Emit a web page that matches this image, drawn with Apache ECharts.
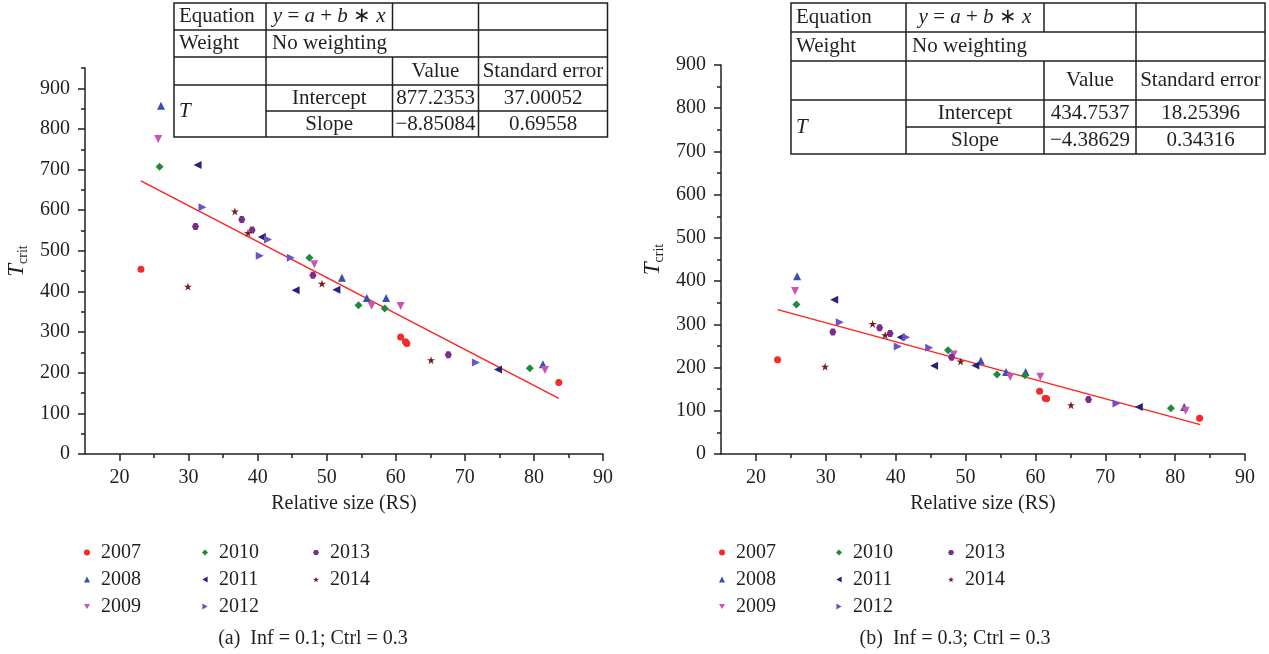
<!DOCTYPE html>
<html><head><meta charset="utf-8">
<script src="https://cdn.jsdelivr.net/npm/echarts@6/dist/echarts.min.js"></script>
<style>html,body{margin:0;padding:0;background:#fff}#c{width:1269px;height:654px}</style>
</head><body><div id="c"></div>
<script>
// ---------- data ----------
const years = ['2007','2008','2009','2010','2011','2012','2013','2014'];
const xTickLabels = [20,30,40,50,60,70,80,90];
const xMinorTicks = [25,35,45,55,65,75,85];
const yTickLabels = [0,100,200,300,400,500,600,700,800,900];
const yMinorTicksA = [50,150,250,350,450,550,650,750,850,950];
const yMinorTicksB = [50,150,250,350,450,550,650,750,850];

// (a) Inf = 0.1; Ctrl = 0.3
const a2007 = [[23.1,455],[60.7,288],[61.4,276],[61.6,272],[83.6,176]];
const a2008 = [[26.0,857],[52.2,434],[55.8,384],[58.6,384],[81.3,221]];
const a2009 = [[25.6,775],[48.2,467],[56.5,365],[60.7,364],[81.6,207]];
const a2010 = [[25.8,707],[47.5,483],[54.6,366],[58.4,358],[79.4,211]];
const a2011 = [[31.3,711],[40.6,534],[45.5,403],[51.4,404],[74.8,208]];
const a2012 = [[32.0,607],[41.5,528],[40.3,488],[44.8,483],[71.6,225]];
const a2013 = [[31.0,560],[37.7,577],[39.2,551],[48.0,440],[67.6,244]];
const a2014 = [[29.9,412],[36.7,597],[38.6,544],[49.3,419],[65.1,231]];
const aFit  = [[23.1,672],[83.6,137]];

// (b) Inf = 0.3; Ctrl = 0.3
const b2007 = [[23.1,218],[60.6,145],[61.4,129],[61.6,128],[83.5,83]];
const b2008 = [[25.9,411],[52.2,216],[55.8,190],[58.6,190],[81.3,109]];
const b2009 = [[25.6,377],[48.3,230],[56.4,178],[60.7,179],[81.5,100]];
const b2010 = [[25.8,346],[47.5,240],[54.5,184],[58.5,182],[79.4,106]];
const b2011 = [[31.2,357],[40.7,270],[45.5,204],[51.4,205],[74.8,109]];
const b2012 = [[32.0,305],[41.5,270],[40.3,249],[44.8,246],[71.6,117]];
const b2013 = [[31.0,282],[37.7,292],[39.2,279],[48.0,224],[67.6,126]];
const b2014 = [[29.9,202],[36.7,301],[38.5,275],[49.3,214],[65.1,113]];
const bFit  = [[23.1,334],[83.6,68]];

// table texts
const tableA = {intercept:'877.2353', interceptErr:'37.00052', slope:'\u22128.85084', slopeErr:'0.69558'};
const tableB = {intercept:'434.7537', interceptErr:'18.25396', slope:'\u22124.38629', slopeErr:'0.34316'};
const captionA = '(a)  Inf = 0.1; Ctrl = 0.3';
const captionB = '(b)  Inf = 0.3; Ctrl = 0.3';

// ---------- styles ----------
const FONT = 'Liberation Serif';
const INK = '#231f20';
const colors = ['#f42a2a','#3a4fae','#c755b8','#1f8a3d','#24237c','#6a55c6','#7b2d8e','#7a1c1c'];
const symbols = [
  'circle',
  'triangle',
  'path://M0,0L10,0L5,8.7Z',
  'diamond',
  'path://M8.7,0L8.7,10L0,5Z',
  'path://M0,0L8.7,5L0,10Z',
  'path://M2.5,0L7.5,0L10,4.33L7.5,8.66L2.5,8.66L0,4.33Z',
  'path://M5,0L6.2,3.6L10,3.6L6.9,5.8L8.1,9.5L5,7.2L1.9,9.5L3.1,5.8L0,3.6L3.8,3.6Z'
];
const sizes = [7,8,8,8,8,8,7,8];
const dataA = [a2007,a2008,a2009,a2010,a2011,a2012,a2013,a2014];
const dataB = [b2007,b2008,b2009,b2010,b2011,b2012,b2013,b2014];

const chart = echarts.init(document.getElementById('c'), null, {renderer:'canvas'});

function mainX(grid){
  return {gridIndex:grid, type:'value', min:15, max:90, position:'bottom',
    axisLine:{show:true, lineStyle:{color:INK, width:1.5}},
    axisTick:{show:true, length:7, customValues:xTickLabels, lineStyle:{color:INK, width:1.5}},
    axisLabel:{show:true, customValues:xTickLabels, margin:14, color:INK, fontFamily:FONT, fontSize:20},
    splitLine:{show:false},
    name:'Relative size (RS)', nameLocation:'middle', nameGap:40,
    nameTextStyle:{color:INK, fontFamily:FONT, fontSize:20}};
}
function minorX(grid){
  return {gridIndex:grid, type:'value', min:15, max:90, position:'bottom',
    axisLine:{show:false}, axisLabel:{show:false}, splitLine:{show:false},
    axisTick:{show:true, length:4, customValues:xMinorTicks, lineStyle:{color:INK, width:1.5}}};
}
function mainY(grid, max){
  return {gridIndex:grid, type:'value', min:0, max:max, position:'left',
    axisLine:{show:true, lineStyle:{color:INK, width:1.5}},
    axisTick:{show:true, length:7, customValues:yTickLabels, lineStyle:{color:INK, width:1.5}},
    axisLabel:{show:true, customValues:yTickLabels, margin:15, color:INK, fontFamily:FONT, fontSize:20},
    splitLine:{show:false},
    name:'{t|T}{s|crit}', nameLocation:'middle', nameGap:55, nameRotate:90,
    nameTextStyle:{color:INK, fontFamily:FONT,
      rich:{t:{fontFamily:FONT, fontStyle:'italic', fontSize:23, lineHeight:26, color:INK},
            s:{fontFamily:FONT, fontSize:14, lineHeight:16, verticalAlign:'bottom', color:INK}}}};
}
function minorY(grid, max, minors){
  return {gridIndex:grid, type:'value', min:0, max:max, position:'left',
    axisLine:{show:false}, axisLabel:{show:false}, splitLine:{show:false},
    axisTick:{show:true, length:4, customValues:minors, lineStyle:{color:INK, width:1.5}}};
}

const series = [];
function addSeries(data, fit, axisIdx){
  series.push({type:'line', data:fit, xAxisIndex:axisIdx, yAxisIndex:axisIdx,
    symbol:'none', silent:true, z:1, lineStyle:{color:'#f22', width:1.5}});
  years.forEach((y,i)=>{
    series.push({name:y, type:'scatter', data:data[i], xAxisIndex:axisIdx, yAxisIndex:axisIdx,
      symbol:symbols[i], symbolSize:sizes[i], z:3, itemStyle:{color:colors[i], opacity:1}});
  });
}
addSeries(dataA, aFit, 0);
addSeries(dataB, bFit, 2);

function legendCol(names, left, top){
  return {orient:'vertical', left:left, top:top, data:names, itemWidth:6, itemHeight:6,
    itemGap:6, selectedMode:false,
    textStyle:{fontFamily:FONT, fontSize:20, color:INK, lineHeight:21, padding:[0,0,0,6]}};
}
const legendTop = 537;
const legends = [
  legendCol(years.slice(0,3), 79, legendTop),
  legendCol(years.slice(3,6), 197, legendTop),
  legendCol(years.slice(6,8), 308, legendTop),
  legendCol(years.slice(0,3), 714, legendTop),
  legendCol(years.slice(3,6), 831, legendTop),
  legendCol(years.slice(6,8), 943, legendTop)
];

// ---------- tables (graphic) ----------
function buildTable(c, r, t){
  const els = [];
  const ls = {stroke:INK, lineWidth:1.5};
  const line = (x1,y1,x2,y2)=>els.push({type:'line', shape:{x1,y1,x2,y2}, style:ls, silent:true});
  els.push({type:'rect', shape:{x:c[0], y:r[0], width:c[4]-c[0], height:r[5]-r[0]}, style:{fill:null, stroke:INK, lineWidth:1.5}, silent:true});
  line(c[0],r[1],c[4],r[1]);
  line(c[0],r[2],c[4],r[2]);
  line(c[0],r[3],c[4],r[3]);
  line(c[1],r[4],c[4],r[4]);
  line(c[1],r[0],c[1],r[5]);
  line(c[3],r[0],c[3],r[5]);
  line(c[2],r[0],c[2],r[1]);
  line(c[2],r[2],c[2],r[5]);
  const base = {fontFamily:FONT, fontSize:21, fill:INK, verticalAlign:'middle'};
  const txt = (x,y,text,align,extra)=>els.push({type:'text', x:x, y:y, silent:true,
    style:Object.assign({}, base, {text:text, align:align}, extra||{})});
  const cy = i => (r[i]+r[i+1])/2;
  const cx = i => (c[i]+c[i+1])/2;
  txt(c[0]+5, cy(0), 'Equation', 'left');
  txt(cx(1), cy(0), '{i|y} = {i|a} + {i|b} \u2217 {i|x}', 'center',
      {rich:{i:{fontFamily:FONT, fontSize:21, fontStyle:'italic', fill:INK}}});
  txt(c[0]+5, cy(1), 'Weight', 'left');
  txt(c[1]+6, cy(1), 'No weighting', 'left');
  txt(cx(2), cy(2), 'Value', 'center');
  txt(cx(3), cy(2), 'Standard error', 'center');
  txt(c[0]+5, (r[3]+r[5])/2, 'T', 'left', {fontStyle:'italic'});
  txt(cx(1), cy(3), 'Intercept', 'center');
  txt(cx(1), cy(4), 'Slope', 'center');
  txt(cx(2), cy(3), t.intercept, 'center');
  txt(cx(3), cy(3), t.interceptErr, 'center');
  txt(cx(2), cy(4), t.slope, 'center');
  txt(cx(3), cy(4), t.slopeErr, 'center');
  return els;
}
const graphics = [].concat(
  buildTable([174,266,392.5,478.5,607.5],[3,30,57,85,111,137], tableA),
  buildTable([791,906,1044,1136,1265],[3,32,61,100,127,154], tableB),
  [{type:'text', x:313, y:639, silent:true, style:{text:captionA, fontFamily:FONT, fontSize:20, fill:INK, align:'center', verticalAlign:'middle'}},
   {type:'text', x:955, y:639, silent:true, style:{text:captionB, fontFamily:FONT, fontSize:20, fill:INK, align:'center', verticalAlign:'middle'}}]
);

chart.setOption({
  animation:false,
  backgroundColor:'#fff',
  grid:[
    {left:85, right:666, top:68, bottom:200, containLabel:false},
    {left:721, right:24, top:65, bottom:200, containLabel:false}
  ],
  xAxis:[mainX(0), minorX(0), mainX(1), minorX(1)],
  yAxis:[mainY(0,950), minorY(0,950,yMinorTicksA), mainY(1,900), minorY(1,900,yMinorTicksB)],
  legend:legends,
  series:series,
  graphic:graphics
});
</script></body></html>
